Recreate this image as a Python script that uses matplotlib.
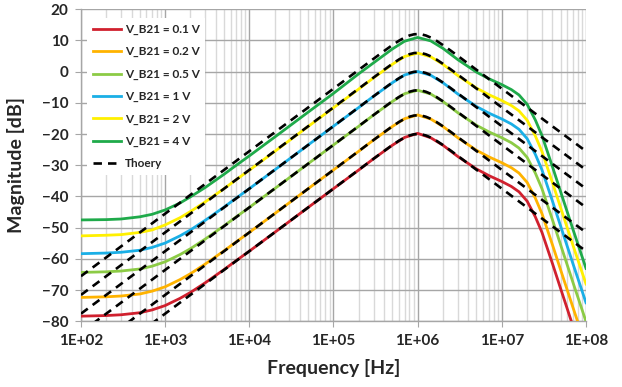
import matplotlib

matplotlib.use("Agg")

import matplotlib.pyplot as plt
from matplotlib.ticker import LogLocator, NullFormatter, FixedLocator

plt.rcParams["font.family"] = ["Lato", "DejaVu Sans"]

# measured curves, sampled frequencies [Hz]
freq = [1e2, 2e2, 3e2, 5e2, 7e2, 1e3, 1.5e3, 2e3, 3e3, 5e3, 7e3, 1e4, 2e4, 5e4, 1e5, 2e5, 3e5, 5e5, 7e5,
        1e6, 1.43e6, 2e6, 3e6, 5e6, 7e6, 1e7, 1.3e7, 1.6e7, 2e7, 2.5e7, 3e7, 4e7, 5e7, 7e7, 1e8]

mag_01 = [-78.3, -78.1, -77.85, -77.2, -76.3, -74.9, -72.6, -70.7, -67.6, -63.4, -60.5, -57.5, -51.5,
          -43.5, -37.5, -31.5, -27.9, -23.6, -21.1, -19.8, -21.2, -23.6, -27.2, -31.2, -33.3, -35.2,
          -36.8, -38.5, -41.5, -46.5, -51.5, -61.5, -69.5, -81.5, -94.0]
mag_02 = [-72.3, -72.1, -71.85, -71.2, -70.3, -68.9, -66.6, -64.7, -61.6, -57.4, -54.5, -51.5, -45.5,
          -37.5, -31.5, -25.5, -21.9, -17.6, -15.1, -13.9, -15.2, -17.6, -21.2, -25.2, -27.3, -29.2,
          -30.8, -32.5, -35.5, -40.5, -45.5, -55.5, -63.5, -75.5, -88.0]
mag_05 = [-64.3, -64.1, -63.85, -63.2, -62.3, -60.9, -58.6, -56.7, -53.6, -49.4, -46.5, -43.5, -37.5,
          -29.5, -23.5, -17.5, -13.9, -9.6, -7.1, -6.0, -7.2, -9.6, -13.2, -17.2, -19.3, -21.2,
          -22.8, -24.5, -27.5, -32.5, -37.5, -47.5, -55.5, -67.5, -80.0]
mag_1 = [-58.3, -58.1, -57.85, -57.2, -56.3, -54.9, -52.6, -50.7, -47.6, -43.4, -40.5, -37.5, -31.5,
         -23.5, -17.5, -11.5, -7.9, -3.6, -1.1, 0.0, -1.2, -3.6, -7.2, -11.2, -13.3, -15.2,
         -16.8, -18.5, -21.5, -26.5, -31.5, -41.5, -49.5, -61.5, -74.0]
mag_2 = [-52.6, -52.4, -52.2, -51.5, -50.7, -49.1, -46.8, -44.8, -41.7, -37.5, -34.6, -31.6, -25.6,
         -17.6, -11.6, -5.6, -2.0, 2.3, 4.8, 5.9, 4.7, 2.3, -1.3, -5.3, -7.4, -9.3,
         -10.9, -12.6, -15.6, -20.6, -25.6, -35.6, -43.6, -55.6, -68.0]
mag_4 = [-47.5, -47.4, -47.2, -46.5, -45.7, -44.3, -42.1, -40.1, -37.1, -32.9, -30.0, -27.0, -21.0,
         -13.0, -7.0, -0.7, 2.8, 7.2, 9.7, 10.9, 9.8, 7.4, 3.8, -0.2, -2.3, -4.2,
         -5.8, -7.5, -10.5, -15.5, -20.5, -30.5, -38.5, -50.5, -63.0]

# theory curve for V_B21 = 1 V and the dB shift of each bias level
theory_freq = [1e2, 1e4, 3e4, 5e4, 1e5, 1.5e5, 2e5, 3e5, 4e5, 5e5, 6e5, 7e5, 8e5, 9e5, 1e6,
               1.11e6, 1.25e6, 1.43e6, 1.67e6, 2e6, 2.5e6, 3.33e6, 5e6, 6.67e6, 1e7, 2e7, 3.33e7, 1e8]
theory_db = [-77.5, -37.5, -27.96, -23.52, -17.49, -13.96, -11.45, -7.91, -5.42, -3.55, -2.15, -1.13,
             -0.47, -0.11, 0.0, -0.11, -0.47, -1.13, -2.15, -3.55, -5.42, -7.91, -11.45, -13.96,
             -17.49, -23.52, -27.96, -37.5]
theory_shift = [-20.0, -14.0, -6.0, 0.0, 6.0, 12.0]

labels = ["V_B21 = 0.1 V", "V_B21 = 0.2 V", "V_B21 = 0.5 V", "V_B21 = 1 V", "V_B21 = 2 V", "V_B21 = 4 V"]
colors = ["#D0202E", "#FFB300", "#8CCB45", "#1AAFE6", "#FFF000", "#1FAA4A"]
series = [mag_01, mag_02, mag_05, mag_1, mag_2, mag_4]

fig = plt.figure(figsize=(6.22, 3.87), dpi=100, facecolor="white")
ax = fig.add_axes([0.1302, 0.1693, 0.8119, 0.8074])

for ys, lab, col in zip(series, labels, colors):
    ax.plot(freq, ys, color=col, lw=2.0, label=lab, zorder=3)

for i, shift in enumerate(theory_shift):
    ax.plot(theory_freq, [v + shift for v in theory_db], color="black", lw=1.9,
            dashes=(3.2, 2.3), label="Thoery" if i == 0 else None, zorder=4)

ax.set_xscale("log")
ax.set_xlim(1e2, 1e8)
ax.set_ylim(-80, 20)
ax.yaxis.set_major_locator(FixedLocator(range(-80, 21, 10)))
ax.xaxis.set_minor_locator(LogLocator(base=10, subs=range(2, 10), numticks=100))
ax.xaxis.set_minor_formatter(NullFormatter())
ax.set_xticks([1e2, 1e3, 1e4, 1e5, 1e6, 1e7, 1e8])
ax.set_xticklabels(["1E+02", "1E+03", "1E+04", "1E+05", "1E+06", "1E+07", "1E+08"])

ax.grid(True, which="major", color="#A6A6A6", lw=1.0, zorder=0)
ax.grid(True, which="minor", axis="x", color="#D9D9D9", lw=1.0, zorder=0)
ax.set_axisbelow(True)

for side in ["top", "right"]:
    ax.spines[side].set_visible(False)
for side in ["left", "bottom"]:
    ax.spines[side].set_color("#A6A6A6")
    ax.spines[side].set_linewidth(1.0)

ax.tick_params(axis="both", which="major", colors="#A6A6A6", length=4, labelcolor="#262626",
               labelsize=11, pad=5)
ax.tick_params(axis="x", which="minor", length=0)
for t in ax.get_xticklabels() + ax.get_yticklabels():
    t.set_fontweight("bold")

ax.set_xlabel("Frequency [Hz]", fontsize=14, fontweight="bold", color="#262626", labelpad=8)
ax.set_ylabel("Magnitude [dB]", fontsize=14, fontweight="bold", color="#262626", labelpad=12)

leg = ax.legend(loc="upper left", bbox_to_anchor=(0.0, 0.99), fontsize=8.5, frameon=True,
                facecolor="white", edgecolor="none", framealpha=1.0, fancybox=False,
                handlelength=2.4, handletextpad=0.3, labelspacing=0.95, borderpad=0.5)
for t in leg.get_texts():
    t.set_fontweight("bold")
    t.set_color("#262626")
leg.set_zorder(5)

fig.savefig("out.png", dpi=100, facecolor="white")
